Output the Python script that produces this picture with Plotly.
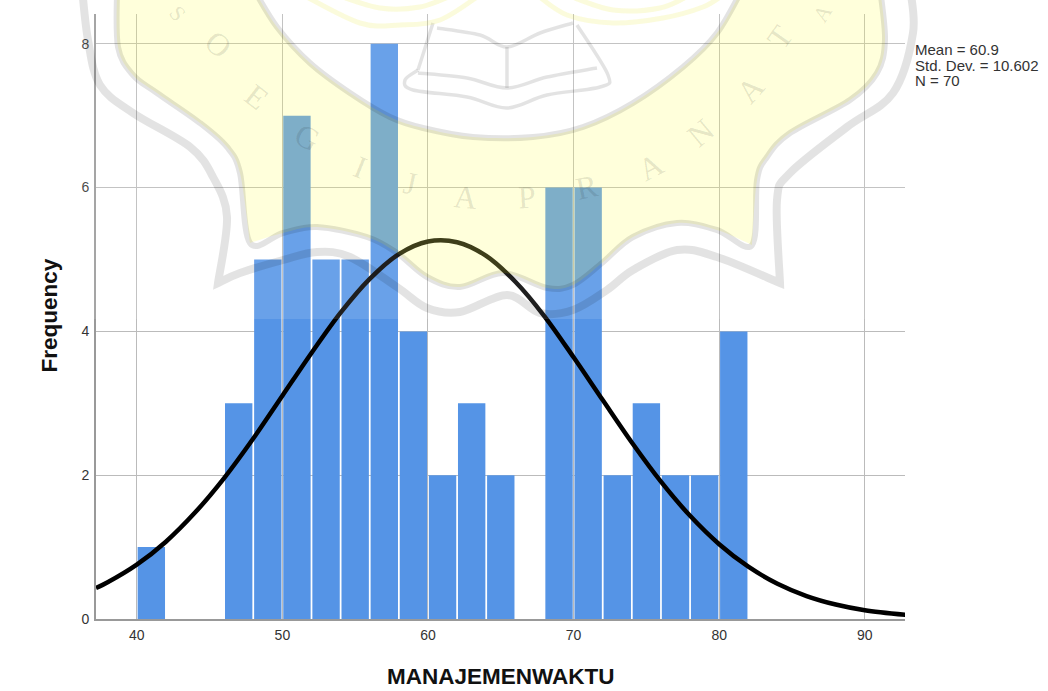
import plotly.graph_objects as go

# ---- data ----
bin_left = [40, 46, 48, 50, 52, 54, 56, 58, 60, 62, 64, 68, 70, 72, 74, 76, 78, 80]
bin_count = [1, 3, 5, 7, 5, 5, 8, 4, 2, 3, 2, 6, 6, 2, 3, 2, 2, 4]
curve_x = [37.2, 38, 40, 42, 44, 46, 48, 50, 52, 54, 56, 58, 60, 62, 64, 66, 68, 70, 72, 74, 76, 78, 80, 82, 84, 86, 88, 90, 92.8]
curve_y = [0.43, 0.51, 0.755, 1.075, 1.48, 1.96, 2.51, 3.105, 3.70, 4.26, 4.73, 5.075, 5.25, 5.24, 5.05, 4.69, 4.21, 3.64, 3.045, 2.455, 1.91, 1.435, 1.04, 0.727, 0.49, 0.319, 0.201, 0.122, 0.057]
x_ticks = [40, 50, 60, 70, 80, 90]
y_ticks = [0, 2, 4, 6, 8]
stats_lines = ["Mean = 60.9", "Std. Dev. = 10.602", "N = 70"]
x_title = "MANAJEMENWAKTU"
y_title = "Frequency"

# ---- page geometry ----
W, H = 1048, 691
L, R, T, B = 96, 905, 14, 619
FONT = "Liberation Sans"


def px(x, y):
    return (x - L) / (R - L), (B - y) / (B - T)


def smooth(points):
    """Catmull-Rom path through picture-space watermark outline points."""
    p = [px(*q) for q in points]
    out = f"M{p[0][0]:.5f},{p[0][1]:.5f}"
    for i in range(len(p) - 1):
        a = p[max(i - 1, 0)]
        b = p[i]
        c = p[i + 1]
        d = p[min(i + 2, len(p) - 1)]
        c1 = (b[0] + (c[0] - a[0]) / 6, b[1] + (c[1] - a[1]) / 6)
        c2 = (c[0] - (d[0] - b[0]) / 6, c[1] - (d[1] - b[1]) / 6)
        out += f" C{c1[0]:.5f},{c1[1]:.5f} {c2[0]:.5f},{c2[1]:.5f} {c[0]:.5f},{c[1]:.5f}"
    return out


def chain(*segments):
    s = smooth(segments[0])
    for seg in segments[1:]:
        s += " L" + smooth(seg)[1:]
    return s


# ---- watermark outlines (decoration, picture-space) ----
inner_left = [(117, -12), (118, 47), (133, 75), (157, 93), (200, 123), (227, 147), (240, 173), (250, 243)]
inner_bottom = [(250, 243), (283, 233), (317, 227), (367, 237), (397, 253), (427, 277), (460, 287), (503, 273),
                (547, 288), (573, 285), (602, 263), (633, 237), (677, 223), (717, 230), (752, 245)]
inner_right = [(752, 245), (757, 180), (767, 157), (790, 133), (850, 100), (877, 73), (885, 40), (880, -12)]
inner_arc = [(743, -12), (717, 33), (683, 67), (633, 103), (583, 127), (533, 137), (473, 137), (423, 128),
             (390, 117), (350, 93), (310, 63), (277, 27), (253, -12)]
outer_left = [(82, -12), (88, 40), (100, 85), (133, 113), (190, 147), (213, 177), (227, 217), (218, 283)]
outer_bottom = [(218, 283), (240, 273), (283, 260), (317, 252), (350, 257), (397, 287), (427, 308), (460, 312),
                (507, 295), (540, 313), (573, 310), (607, 290), (633, 270), (677, 250), (717, 257), (780, 283)]
outer_right = [(780, 283), (777, 200), (790, 173), (847, 127), (893, 93), (913, 33), (910, -12)]
book_paths = [
    [(437, 28), (480, 35), (507, 47), (540, 33), (573, 23)],
    [(433, 23), (418, 70)],
    [(418, 70), (405, 80), (413, 90), (467, 97), (507, 108), (547, 95), (600, 87), (608, 75), (577, 25)],
    [(418, 73), (467, 78), (507, 88), (547, 77), (597, 68)],
    [(507, 47), (507, 88)],
]
top_arcs = [
    [(303, -5), (360, 23), (400, 25), (440, 20), (480, -5)],
    [(337, -5), (380, 8), (420, 7), (453, -5)],
    [(537, -5), (567, 15), (613, 23), (663, 18), (703, 7), (723, -5)],
    [(567, -5), (613, 10), (660, 8), (690, -5)],
]
letters = [("S", 178, 13, 50, 22), ("O", 218, 44, 42, 32), ("E", 257, 97, 38, 32), ("G", 307, 137, 28, 32),
           ("I", 360, 167, 22, 32), ("J", 410, 183, 12, 32), ("A", 465, 197, 5, 32), ("P", 527, 197, -3, 32),
           ("R", 587, 187, -12, 32), ("A", 650, 167, -28, 32), ("N", 700, 133, -40, 32), ("A", 750, 90, -48, 32),
           ("T", 780, 37, -55, 32), ("A", 822, 13, -58, 22)]

GRAY = "rgba(0,0,0,0.11)"
shapes = [
    dict(type="rect", xref="paper", yref="paper", layer="above",
         x0=-0.2, x1=1.2, y0=px(0, 319)[1], y1=1.1,
         fillcolor="rgba(255,255,255,0.12)", line_width=0),
    dict(type="path", xref="paper", yref="paper", layer="above",
         path=chain(inner_left, inner_bottom, inner_right, inner_arc) + " Z",
         fillcolor="rgba(255,255,0,0.14)", line=dict(width=0)),
]
for seg in [inner_left + inner_bottom[1:] + inner_right[1:], inner_arc]:
    shapes.append(dict(type="path", xref="paper", yref="paper", layer="above",
                       path=smooth(seg), line=dict(color=GRAY, width=6)))
shapes.append(dict(type="path", xref="paper", yref="paper", layer="above",
                   path=chain(outer_left, outer_bottom, outer_right), line=dict(color=GRAY, width=8)))
for seg in book_paths:
    shapes.append(dict(type="path", xref="paper", yref="paper", layer="above",
                       path=smooth(seg), line=dict(color=GRAY, width=3.5)))
for seg in top_arcs:
    shapes.append(dict(type="path", xref="paper", yref="paper", layer="above",
                       path=smooth(seg), line=dict(color="rgba(235,235,60,0.18)", width=5)))

annotations = []
for ch, x, y, ang, sz in letters:
    xp, yp = px(x, y)
    annotations.append(dict(text=ch, x=xp, y=yp, xref="paper", yref="paper", showarrow=False,
                            xanchor="center", yanchor="middle", textangle=ang,
                            font=dict(family="Liberation Serif", size=sz, color=GRAY)))
for i, line in enumerate(stats_lines):
    xp, yp = px(913, 50 + i * 15.3)
    annotations.append(dict(text=line, x=xp, y=yp, xref="paper", yref="paper", showarrow=False,
                            xanchor="left", yanchor="middle",
                            font=dict(family=FONT, size=15, color="#333333")))
xp, yp = px(500.5, 676)
annotations.append(dict(text=f"<b>{x_title}</b>", x=xp, y=yp, xref="paper", yref="paper", showarrow=False,
                        xanchor="center", yanchor="middle",
                        font=dict(family=FONT, size=22.5, color="#111111")))
xp, yp = px(49, 315.5)
annotations.append(dict(text=f"<b>{y_title}</b>", x=xp, y=yp, xref="paper", yref="paper", showarrow=False,
                        xanchor="center", yanchor="middle", textangle=-90,
                        font=dict(family=FONT, size=22.5, color="#111111")))

fig = go.Figure()
fig.add_bar(x=[v + 1 for v in bin_left], y=bin_count, width=1.88,
            marker=dict(color="#5594E6", line_width=0))
fig.add_scatter(x=curve_x, y=curve_y, mode="lines",
                line=dict(color="black", width=4.5, shape="spline", smoothing=0.9))

fig.update_layout(
    width=W, height=H, showlegend=False,
    margin=dict(l=L, r=W - R, t=T, b=H - B, pad=0, autoexpand=False),
    plot_bgcolor="white", paper_bgcolor="white",
    shapes=shapes, annotations=annotations,
    font=dict(family=FONT, color="#333333"),
)
fig.update_xaxes(range=[37.2, 92.76], tickvals=x_ticks, showgrid=True, gridcolor="#bbbbbb", gridwidth=1,
                 zeroline=False, showline=True, linecolor="#999999", linewidth=2, ticks="",
                 ticklabelstandoff=2,
                 tickfont=dict(size=14, family=FONT, color="#333333"))
fig.update_yaxes(range=[0, 8.414], tickvals=y_ticks, showgrid=True, gridcolor="#bbbbbb", gridwidth=1,
                 zeroline=False, showline=True, linecolor="#999999", linewidth=2, ticks="",
                 ticklabelstandoff=2,
                 tickfont=dict(size=14, family=FONT, color="#333333"))

fig.write_html("out.html", post_script="document.body.style.margin='0';",
               config={"displayModeBar": False})
